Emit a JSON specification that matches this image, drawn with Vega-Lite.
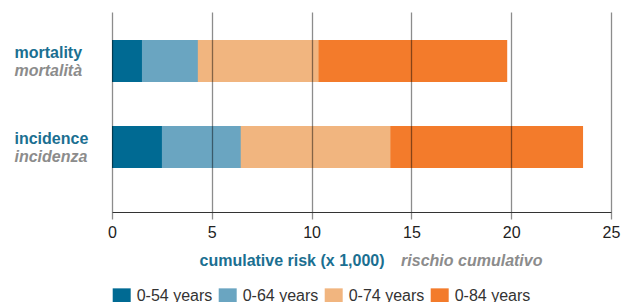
{
  "$schema": "https://vega.github.io/schema/vega-lite/v6.json",
  "width": 499,
  "height": 200,
  "autosize": {"type": "none"},
  "padding": {"left": 112, "top": 12, "right": 12, "bottom": 90},
  "config": {"view": {"stroke": null}, "font": "Liberation Sans"},
  "data": {
    "values": [
      {"measure": "mortality", "age": "0-84 years", "value": 19.8},
      {"measure": "mortality", "age": "0-74 years", "value": 10.35},
      {"measure": "mortality", "age": "0-64 years", "value": 4.3},
      {"measure": "mortality", "age": "0-54 years", "value": 1.5},
      {"measure": "incidence", "age": "0-84 years", "value": 23.6},
      {"measure": "incidence", "age": "0-74 years", "value": 13.95},
      {"measure": "incidence", "age": "0-64 years", "value": 6.45},
      {"measure": "incidence", "age": "0-54 years", "value": 2.5}
    ]
  },
  "layer": [
    {
      "mark": {"type": "bar"},
      "encoding": {
        "y": {
          "field": "measure",
          "type": "nominal",
          "sort": ["mortality", "incidence"],
          "scale": {"paddingInner": 0.512, "paddingOuter": 0.419, "align": 0.389},
          "axis": {
            "orient": "left",
            "title": null,
            "domain": false,
            "ticks": false,
            "labelAlign": "left",
            "labelPadding": 98,
            "labelFont": "Liberation Sans",
            "labelFontSize": 16,
            "labelFontWeight": "bold",
            "labelColor": "#1b6f91",
            "labelBaseline": "alphabetic",
            "labelOffset": -3
          }
        },
        "x": {
          "field": "value",
          "type": "quantitative",
          "stack": null,
          "scale": {"domain": [0, 25], "nice": false},
          "axis": {
            "orient": "bottom",
            "values": [0, 5, 10, 15, 20, 25],
            "zindex": 1,
            "grid": true,
            "gridColor": "#000",
            "gridOpacity": 0.45,
            "gridWidth": 1.3,
            "ticks": true,
            "tickColor": "#000",
            "tickOpacity": 0.45,
            "tickWidth": 1.3,
            "tickSize": 7,
            "domainColor": "#333",
            "domainWidth": 1,
            "labelFlush": false,
            "labelFontSize": 16,
            "labelColor": "#222",
            "labelBaseline": "alphabetic",
            "labelPadding": 18,
            "title": "cumulative risk (x 1,000)",
            "titleFontSize": 16,
            "titleFontWeight": "bold",
            "titleColor": "#1b6f91",
            "titleX": 179.5,
            "titleY": 53,
            "titleAlign": "center",
            "titleBaseline": "alphabetic"
          }
        },
        "color": {
          "field": "age",
          "type": "nominal",
          "scale": {
            "domain": ["0-54 years", "0-64 years", "0-74 years", "0-84 years"],
            "range": ["#006a93", "#6aa5c1", "#f1b57f", "#f37b2b"]
          },
          "legend": {
            "orient": "none",
            "legendX": 0.7,
            "legendY": 275,
            "direction": "horizontal",
            "title": null,
            "symbolType": "M-1,-0.9H1V0.9H-1Z",
            "symbolSize": 324,
            "symbolStrokeWidth": 0,
            "symbolOpacity": 1,
            "labelFontSize": 16,
            "labelColor": "#333",
            "labelOffset": 6,
            "columnPadding": 6
          }
        }
      }
    },
    {
      "mark": {"type": "text", "text": ""},
      "encoding": {
        "y": {
          "field": "measure",
          "type": "nominal",
          "sort": ["mortality", "incidence"],
          "axis": {
            "orient": "left",
            "title": null,
            "domain": false,
            "ticks": false,
            "labelAlign": "left",
            "labelPadding": 98,
            "labelFont": "Liberation Sans",
            "labelFontSize": 16,
            "labelFontWeight": "bold",
            "labelFontStyle": "italic",
            "labelColor": "#8c8c8c",
            "labelBaseline": "alphabetic",
            "labelOffset": 15,
            "labelExpr": "datum.label == 'mortality' ? 'mortalità' : 'incidenza'"
          }
        },
        "x": {
          "field": "value",
          "type": "quantitative",
          "axis": {
            "orient": "bottom",
            "grid": false,
            "ticks": false,
            "labels": false,
            "domain": false,
            "title": "rischio cumulativo",
            "titleFontSize": 16,
            "titleFontWeight": "bold",
            "titleFontStyle": "italic",
            "titleColor": "#8c8c8c",
            "titleX": 359.3,
            "titleY": 53,
            "titleAlign": "center",
            "titleBaseline": "alphabetic"
          }
        }
      }
    }
  ],
  "resolve": {"axis": {"x": "independent", "y": "independent"}}
}
